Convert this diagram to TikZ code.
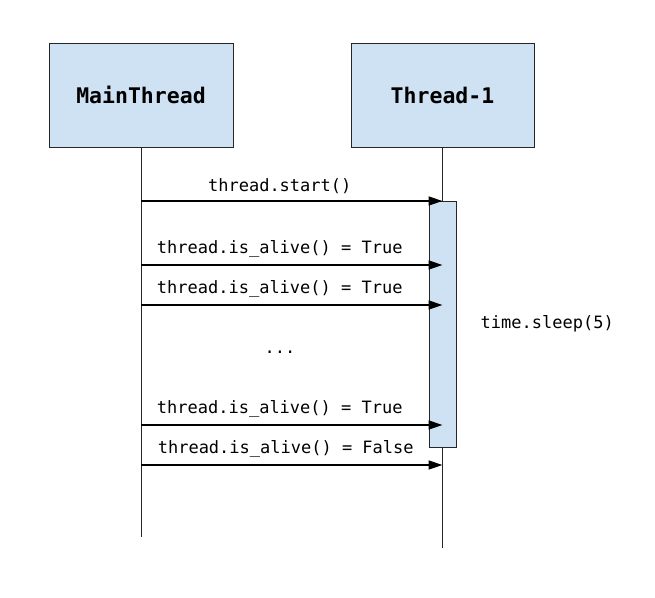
\documentclass[tikz,border=0pt]{standalone}
\usepackage{fontspec}
\setmonofont{DejaVu Sans Mono}
\usetikzlibrary{arrows.meta,positioning,calc}
\definecolor{lifeblue}{RGB}{207,226,243}
\tikzset{
  headbox/.style={rectangle,draw=black!85,fill=lifeblue,minimum width=184pt,minimum height=104pt,font=\fontsize{21.5}{24}\selectfont\ttfamily\bfseries},
  lifeline/.style={draw=black!85,line width=0.9pt},
  actbar/.style={rectangle,draw=black!85,fill=lifeblue,minimum width=27pt,minimum height=246pt,anchor=north,inner sep=0pt},
  msg/.style={-{Triangle[length=14pt,width=9pt]},line width=1.5pt},
  msglabel/.style={above=3.5pt,font=\fontsize{17}{20}\selectfont\ttfamily},
  note/.style={font=\fontsize{17}{20}\selectfont\ttfamily}
}
\begin{document}
\begin{tikzpicture}[x=1pt,y=1pt]
  \useasboundingbox (0,0) rectangle (655,-597);
  % participants
  \node[headbox] (main) at (141,-95) {MainThread};
  \node[headbox,minimum width=183pt] (t1) at (442.5,-95) {Thread-1};
  \coordinate (mainend) at ($(main.south)+(0,-390)$);
  \coordinate (t1end) at ($(t1.south)+(0,-401)$);
  \draw[lifeline] (main.south) -- (mainend);
  \draw[lifeline] (t1.south) -- (t1end);

  % message heights
  \foreach \n/\y in {1/201,2/265,3/305,4/425,5/465}{
    \path (0,-\y) coordinate (h\n);
    \coordinate (s\n) at (main.south |- h\n);
    \coordinate (r\n) at (t1.south |- h\n);
  }

  \node[actbar] (act) at (r1) {};
  \node[note,right=21pt of act.east] (sleep) {time.sleep(5)};

  \draw[msg] (s1) -- node[msglabel,xshift=-12pt] {thread.start()} (r1);
  \draw[msg] (s2) -- node[msglabel,xshift=-12pt] {thread.is\_alive() = True} (r2);
  \draw[msg] (s3) -- node[msglabel,xshift=-12pt] {thread.is\_alive() = True} (r3);
  \node[note,anchor=base] (dots) at (280,-353) {...};
  \draw[msg] (s4) -- node[msglabel,xshift=-12pt] {thread.is\_alive() = True} (r4);
  \draw[msg] (s5) -- node[msglabel,xshift=-6pt] {thread.is\_alive() = False} (r5);
\end{tikzpicture}
\end{document}
